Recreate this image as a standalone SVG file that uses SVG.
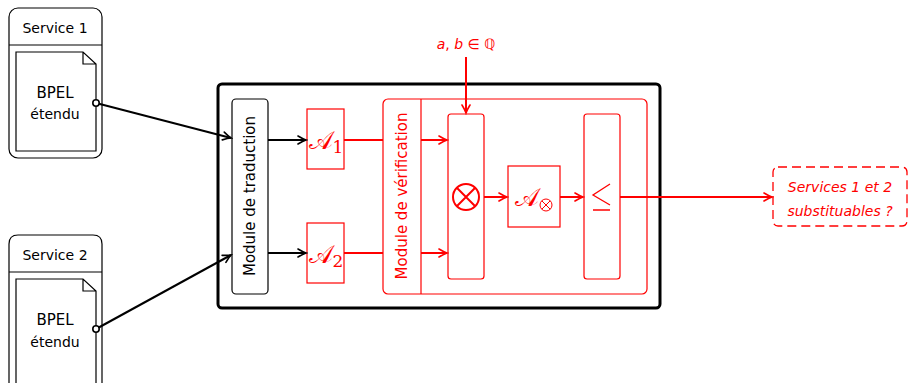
<svg xmlns="http://www.w3.org/2000/svg" width="908" height="383" viewBox="0 0 908 383">
<style>
text{font-family:"DejaVu Sans","Liberation Sans",sans-serif;}
.lbl{font-size:14px;fill:#000;text-anchor:middle;}
.blk{fill:none;stroke:#000;stroke-width:1.2;}
.red{fill:none;stroke:#f00;stroke-width:1.2;}
.rl{fill:#f00;text-anchor:middle;}
.ca{stroke:#000;stroke-width:2;fill:none;}
.cr{stroke:#f00;stroke-width:2;fill:none;}
</style>
<defs>
<marker id="ab" markerUnits="userSpaceOnUse" markerWidth="12" markerHeight="12" viewBox="-10 -6 12 12" refX="0" refY="0" orient="auto">
<path d="M-8,-4 Q-3,-1 0,0 Q-3,1 -8,4" fill="none" stroke="#000" stroke-width="1.6" stroke-linecap="round"/>
</marker>
<marker id="ar" markerUnits="userSpaceOnUse" markerWidth="12" markerHeight="12" viewBox="-10 -6 12 12" refX="0" refY="0" orient="auto">
<path d="M-8,-4 Q-3,-1 0,0 Q-3,1 -8,4" fill="none" stroke="#f00" stroke-width="1.6" stroke-linecap="round"/>
</marker>
<marker id="circ" markerUnits="userSpaceOnUse" markerWidth="10" markerHeight="10" viewBox="-5 -5 10 10" refX="0" refY="0">
<circle r="3.2" fill="#fff" stroke="#000" stroke-width="1.6"/>
</marker>
</defs>

<g id="service1">
<rect x="9" y="8" width="93" height="150" rx="9" class="blk"/>
<line x1="9" y1="45" x2="102" y2="45" class="blk"/>
<path d="M16,52 H83 L96,64 V151 H16 Z M83,52 V64 H96" class="blk"/>
<text x="55" y="33" class="lbl">Service 1</text>
<text x="55" y="98" class="lbl" style="font-size:15px">BPEL</text>
<text x="55" y="119" class="lbl">étendu</text>
</g>

<g id="service2">
<path d="M9,392 V244 Q9,235 18,235 H93 Q102,235 102,244 V392" class="blk"/>
<line x1="9" y1="272" x2="102" y2="272" class="blk"/>
<path d="M16,390 V279 H83 L96,291 V390 M83,279 V291 H96" class="blk"/>
<text x="55" y="260" class="lbl">Service 2</text>
<text x="55" y="325" class="lbl" style="font-size:15px">BPEL</text>
<text x="55" y="347" class="lbl">étendu</text>
</g>

<g id="main">
<rect x="218" y="84" width="442" height="224" rx="4" fill="none" stroke="#000" stroke-width="3"/>
</g>

<g id="traduction">
<rect x="232" y="99" width="36" height="195" rx="4" class="blk"/>
<text transform="translate(255,196) rotate(-90)" class="lbl" style="font-size:15px">Module de traduction</text>
</g>

<g id="A1">
<rect x="307" y="109" width="37" height="60" class="red"/>
<text x="326" y="149" class="rl" style="font-family:'DejaVu Serif',serif;font-size:25px">𝒜<tspan font-size="17" dy="4">1</tspan></text>
</g>
<g id="A2">
<rect x="307" y="223" width="37" height="60" class="red"/>
<text x="326" y="263" class="rl" style="font-family:'DejaVu Serif',serif;font-size:25px">𝒜<tspan font-size="17" dy="4">2</tspan></text>
</g>

<g id="verification">
<rect x="383" y="99" width="264" height="195" rx="5" class="red"/>
<line x1="421" y1="99" x2="421" y2="294" class="red"/>
<text transform="translate(407,196) rotate(-90)" class="rl" style="font-size:15px">Module de vérification</text>
</g>

<g id="otimes">
<rect x="448" y="114" width="36" height="165" rx="3" class="red"/>
<circle cx="466" cy="197" r="13" fill="none" stroke="#f00" stroke-width="2"/>
<path d="M456.8,187.8 L475.2,206.2 M475.2,187.8 L456.8,206.2" stroke="#f00" stroke-width="2"/>
</g>

<g id="Aotimes">
<rect x="508" y="166" width="52" height="61" class="red"/>
<text x="527" y="206" class="rl" style="font-family:'DejaVu Serif',serif;font-size:25px">𝒜</text>
<circle cx="546" cy="205" r="6" fill="none" stroke="#f00" stroke-width="1"/>
<path d="M541.8,200.8 L550.2,209.2 M550.2,200.8 L541.8,209.2" stroke="#f00" stroke-width="1"/>
</g>

<g id="leq">
<rect x="584" y="114" width="36" height="165" rx="3" class="red"/>
<path d="M610,184 L593,195 L610,205 M593,210 H610" fill="none" stroke="#f00" stroke-width="1.3"/>
</g>

<g id="param">
<text x="466" y="49" class="rl" style="font-size:14px"><tspan font-style="italic">a</tspan>, <tspan font-style="italic">b</tspan> ∈ ℚ</text>
</g>

<g id="result">
<rect x="773" y="167" width="134" height="59" rx="5" fill="none" stroke="#f00" stroke-width="1.3" stroke-dasharray="9,5"/>
<text x="840" y="192" class="rl" style="font-size:14px;font-style:italic">Services 1 et 2</text>
<text x="840" y="216" class="rl" style="font-size:14px;font-style:italic">substituables ?</text>
</g>

<g id="connectors">
<line x1="96" y1="103" x2="231" y2="138" class="ca" marker-start="url(#circ)" marker-end="url(#ab)"/>
<line x1="96" y1="329" x2="231" y2="255" class="ca" marker-start="url(#circ)" marker-end="url(#ab)"/>
<line x1="268" y1="140" x2="306" y2="140" class="ca" marker-end="url(#ab)"/>
<line x1="268" y1="253" x2="306" y2="253" class="ca" marker-end="url(#ab)"/>
<line x1="344" y1="140" x2="383" y2="140" class="cr"/>
<line x1="344" y1="253" x2="383" y2="253" class="cr"/>
<line x1="421" y1="140" x2="447" y2="140" class="cr" marker-end="url(#ar)"/>
<line x1="421" y1="253" x2="447" y2="253" class="cr" marker-end="url(#ar)"/>
<line x1="466" y1="57" x2="466" y2="113" class="cr" marker-end="url(#ar)"/>
<line x1="484" y1="197" x2="507" y2="197" class="cr" marker-end="url(#ar)"/>
<line x1="560" y1="197" x2="583" y2="197" class="cr" marker-end="url(#ar)"/>
<line x1="620" y1="197" x2="772" y2="197" class="cr" marker-end="url(#ar)"/>
</g>
</svg>
